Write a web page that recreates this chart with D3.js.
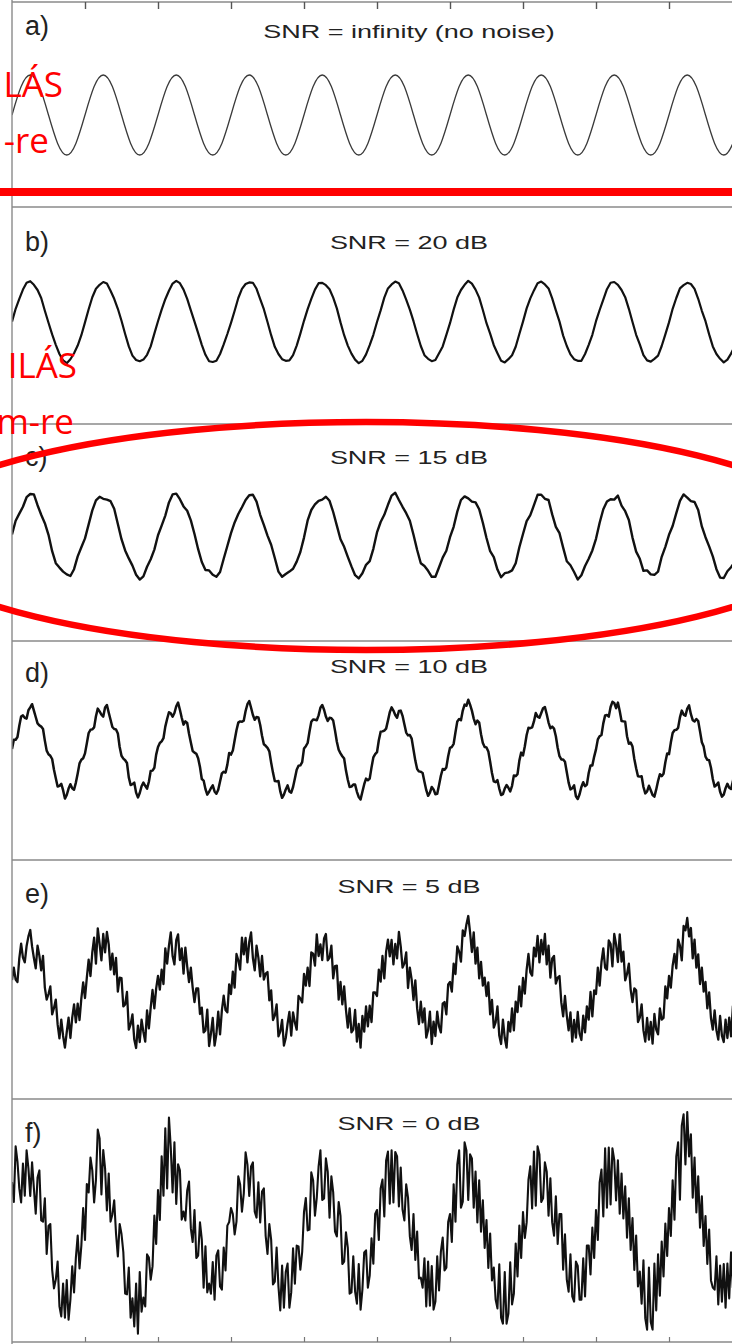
<!DOCTYPE html>
<html>
<head>
<meta charset="utf-8">
<script src="https://cdn.jsdelivr.net/npm/d3@7"></script>
<style>
  html, body { margin: 0; padding: 0; background: #fff; }
  svg { display: block; }
</style>
</head>
<body>
<svg id="chart" width="732" height="1344"></svg>
<script>
// ---------------- DATA ----------------
const panelLabels = ["a)", "b)", "c)", "d)", "e)", "f)"];
const panelTitles = ["SNR = infinity (no noise)", "SNR = 20 dB", "SNR = 15 dB", "SNR = 10 dB", "SNR = 5 dB", "SNR = 0 dB"];
const xTicks = [1, 2, 3, 4, 5, 6, 7, 8, 9];
const xDomain = [0, 10];

// a) no noise (8 samples per period)
const sigA = [0,71,100,71,0,-71,-100,-71, 0,71,100,71,0,-71,-100,-71, 0,71,100,71,0,-71,-100,-71,
  0,71,100,71,0,-71,-100,-71, 0,71,100,71,0,-71,-100,-71, 0,71,100,71,0,-71,-100,-71,
  0,71,100,71,0,-71,-100,-71, 0,71,100,71,0,-71,-100,-71, 0,71,100,71,0,-71,-100,-71,
  0,71,100,71,0,-71,-100,-71, 0];

// b) 20 dB (20 samples per period)
const sigB = [
  1,33,58,81,98,102,93,80,60,28,-2,-31,-57,-80,-96,-103,-93,-78,-59,-33,
  -1,32,62,83,93,100,96,78,58,33,3,-30,-61,-84,-95,-98,-94,-82,-61,-29,
  2,31,57,78,96,103,97,81,58,29,1,-28,-57,-82,-98,-100,-97,-80,-56,-30,
  -2,28,60,83,95,99,98,83,57,32,0,-33,-62,-80,-93,-97,-96,-83,-59,-29,
  3,32,58,81,97,98,92,82,61,34,-1,-33,-59,-79,-94,-103,-97,-81,-58,-32,
  0,29,61,84,94,101,97,79,56,31,2,-30,-60,-83,-92,-98,-95,-78,-61,-32,
  -3,31,61,80,93,103,96,81,61,30,-3,-29,-58,-78,-97,-101,-93,-83,-62,-30,
  1,34,59,79,97,101,94,84,59,29,1,-34,-60,-81,-93,-97,-97,-80,-57,-32,
  2,30,56,82,98,100,93,80,62,33,0,-32,-56,-83,-96,-99,-92,-84,-60,-31,
  -1,33,60,84,92,98,95,83,58,28,2,-31,-61,-80,-92,-101,-94,-79,-61,-28,
  0];

// c) 15 dB (20 samples per period)
const sigC = [
  4,38,56,73,97,105,104,77,53,32,3,-38,-68,-79,-89,-96,-100,-83,-51,-28,
  -6,29,64,89,98,93,91,87,68,30,-8,-36,-56,-74,-97,-109,-101,-77,-58,-34,
  2,26,51,84,104,106,92,74,63,39,5,-33,-65,-85,-86,-97,-102,-90,-57,-25,
  7,34,55,72,90,102,103,86,53,28,1,-22,-55,-89,-102,-95,-89,-82,-64,-40,
  -4,39,65,79,88,91,98,88,60,26,-8,-27,-52,-76,-98,-106,-93,-72,-63,-32,
  9,35,53,78,101,108,90,73,57,38,3,-35,-68,-75,-87,-102,-102,-78,-54,-37,
  -3,23,61,90,99,94,86,84,67,33,-5,-38,-53,-84,-103,-93,-91,-86,-68,-28,
  5,37,52,77,103,103,93,90,54,23,7,-29,-63,-73,-90,-109,-98,-75,-57,-36,
  -7,33,67,86,92,91,101,76,62,40,-4,-39,-57,-87,-86,-96,-97,-89,-52,-27,
  3,25,57,88,104,96,87,85,65,24,-3,-26,-51,-83,-104,-105,-88,-78,-65,-29,
  2];

// d) 10 dB (40 samples per period)
const sigD = [
  5,28,28,35,63,86,89,83,81,102,109,117,101,85,69,64,61,55,26,1,-8,-12,-20,-47,-68,-89,-87,-82,-98,-119,-110,-94,-83,-93,-97,-79,-56,-31,-22,-18,
  -6,19,45,53,54,59,87,106,99,91,86,109,115,96,78,60,55,54,44,10,-12,-19,-23,-30,-66,-85,-83,-79,-104,-116,-105,-88,-79,-87,-94,-77,-50,-49,-42,-9,
  10,20,24,32,61,80,97,94,86,95,112,121,103,83,66,74,70,43,21,0,-4,-7,-18,-40,-70,-74,-95,-109,-102,-93,-86,-101,-107,-97,-76,-56,-52,-54,-34,-5,
  -9,1,27,52,71,74,73,76,100,117,125,108,90,78,85,84,65,38,17,13,8,-1,-29,-54,-75,-76,-75,-101,-117,-109,-96,-86,-101,-104,-90,-69,-47,-37,-36,-28,
  6,12,20,48,73,79,78,77,89,108,115,103,86,75,83,82,76,51,23,3,-6,-13,-19,-49,-72,-90,-89,-84,-84,-102,-115,-121,-102,-83,-69,-73,-69,-41,-16,-8,
  -3,27,48,49,51,56,76,97,109,101,90,83,100,101,88,67,46,39,40,31,3,-24,-45,-51,-52,-55,-77,-98,-112,-104,-90,-96,-108,-107,-85,-62,-45,-47,-41,-13,
  8,10,18,47,74,80,77,101,116,113,128,116,101,81,67,76,71,42,20,10,9,-1,-27,-55,-76,-78,-73,-94,-110,-108,-94,-85,-92,-101,-87,-61,-63,-58,-24,-4,
  -11,12,40,58,57,59,74,95,86,83,95,107,110,92,71,57,61,56,37,8,-13,-21,-21,-27,-53,-79,-96,-93,-86,-113,-120,-108,-90,-78,-88,-84,-55,-36,-36,-14,
  4,29,37,40,69,89,90,86,110,123,120,107,121,100,75,74,73,37,18,21,11,-20,-43,-63,-64,-63,-90,-106,-101,-87,-98,-110,-114,-96,-75,-58,-63,-57,-28,-6,
  -8,21,45,52,53,58,84,101,91,88,106,114,92,77,74,80,75,49,22,11,-14,-22,-23,-42,-70,-89,-85,-79,-102,-114,-109,-93,-82,-92,-95,-76,-51,-51,-43,-12,
  3];

// e) 5 dB (40 samples per period)
const sigE = [
  20,51,21,15,74,111,76,64,105,129,145,104,75,49,106,81,44,80,1,-29,-15,4,-66,-50,-29,-91,-126,-79,-120,-149,-110,-74,-125,-74,-41,-86,-39,-80,-26,14,
  -25,26,71,30,89,126,61,149,110,69,135,89,140,109,46,86,34,75,-9,26,25,-46,-41,-10,-104,-91,-66,-129,-150,-94,-135,-79,-110,-134,-56,-101,-49,-5,-51,-1,
  30,-4,46,10,99,61,106,139,80,59,120,134,70,99,36,101,54,15,51,1,-35,-1,-1,-65,-49,-111,-106,-54,-145,-114,-75,-144,-115,-59,-116,-56,-19,-55,-61,9,
  -15,41,1,85,69,46,126,84,125,64,115,139,75,44,106,76,29,80,21,36,40,-31,-6,-80,-69,-41,-121,-109,-80,-144,-125,-89,-60,-119,-61,-86,-104,-20,-26,-36,
  35,6,51,5,89,86,56,134,80,109,70,124,135,69,76,106,24,55,56,-29,15,-41,4,-55,-99,-51,-111,-104,-55,-134,-90,-149,-70,-109,-46,-96,-44,-85,-11,-11,
  -20,46,16,80,24,91,121,79,120,59,110,74,140,104,51,61,89,0,51,21,-30,19,-51,-90,-34,-86,-51,-124,-105,-59,-140,-84,-120,-59,-96,-111,-39,-35,-66,9,
  15,-9,61,35,104,91,66,144,130,159,180,139,90,139,61,101,24,65,6,26,-20,14,-66,-30,-99,-86,-46,-119,-140,-79,-125,-149,-85,-109,-51,-106,-34,-60,4,-46,
  25,-14,46,85,39,31,101,79,130,64,120,84,135,59,106,26,74,80,11,26,30,-36,-71,-20,-69,-106,-61,-134,-80,-124,-60,-114,-130,-69,-111,-46,-79,-10,-71,-6,
  -15,51,6,65,99,51,46,119,110,54,135,109,65,134,66,91,19,35,61,-4,-35,-1,-6,-85,-74,-41,-106,-134,-75,-129,-85,-139,-65,-104,-116,-51,-79,-75,4,-26,
  30,1,56,85,49,121,106,69,155,144,175,129,150,74,121,51,84,10,51,-9,15,-51,-11,-75,-104,-56,-106,-129,-70,-119,-135,-79,-125,-74,-121,-46,-69,-75,-11,-31,
  10];

// f) 0 dB (40 samples per period)
const sigF = [
  120,70,209,171,104,69,166,86,199,154,85,169,104,41,131,149,24,21,79,-60,10,15,-99,-146,-124,-79,-191,-216,-134,-219,-125,-224,-174,-91,-156,-69,-14,-96,-39,55,
  -25,115,94,181,149,69,126,251,229,89,200,154,49,141,21,39,74,-9,-66,15,-10,-55,-159,-161,-94,-219,-171,-241,-134,-259,-105,-204,-169,-191,-61,-69,-124,-91,36,-35,
  100,25,184,86,254,104,281,206,94,219,65,164,149,26,46,24,99,121,4,-30,50,-70,-64,19,-24,-144,-41,-156,-134,-159,-80,-174,-64,-51,-141,-149,-44,-101,11,20,
  55,40,-11,21,134,114,46,91,194,164,85,159,169,46,31,119,19,96,104,-15,-60,15,-24,-136,-129,-44,-141,-201,-89,-194,-105,-84,-194,-156,-46,-134,-39,-41,-99,-55,
  45,80,-1,1,144,124,36,81,159,199,75,79,179,146,31,134,94,-4,-16,70,35,-85,-79,-6,-44,-159,-156,-66,-154,-184,-85,-199,-149,-56,-51,-144,-114,-21,-84,40,
  50,-25,104,126,34,174,196,66,199,69,195,184,59,156,51,24,114,81,-16,-50,40,-75,-4,-121,-119,-144,-71,-191,-79,-189,-90,-199,-179,-66,-151,-54,-19,-101,-94,20,
  40,-30,114,21,164,199,56,71,219,199,75,189,179,56,146,19,124,-4,74,-45,25,-95,-9,-126,-94,-174,-196,-86,-219,-234,-105,-234,-209,-81,-186,-159,-34,-116,11,-70,
  45,-20,19,126,159,54,196,61,209,189,70,79,169,146,36,129,19,-14,84,-35,40,40,-99,-11,-124,-154,-61,-166,-179,-79,-90,-174,-174,-71,-166,-39,-39,-111,6,-70,
  50,-25,119,151,34,204,56,206,64,204,175,74,174,41,141,29,109,-19,79,-50,30,-100,-14,-141,-104,-184,-76,-221,-249,-94,-230,-249,-84,-201,-61,-164,-29,-116,16,-65,
  55,-15,124,26,184,219,76,261,289,164,295,184,239,81,181,44,134,6,84,-40,35,-85,1,-126,-144,-149,-66,-186,-89,-179,-85,-194,-84,-171,-56,-144,-34,-106,11,-65,
  40];

const series = [sigA, sigB, sigC, sigD, sigE, sigF];

// ---------------- LAYOUT ----------------
const W = 732, H = 1344;
const pxPerUnit = 0.4;
const panels = [
  { top: 2,    bottom: 207,  center: 115,  titleY: 38,   labelY: 35 },
  { top: 207,  bottom: 424,  center: 322,  titleY: 249,  labelY: 251 },
  { top: 424,  bottom: 641,  center: 536,  titleY: 464,  labelY: 466 },
  { top: 641,  bottom: 860,  center: 751,  titleY: 673,  labelY: 682 },
  { top: 860,  bottom: 1099, center: 988,  titleY: 893,  labelY: 903 },
  { top: 1099, bottom: 1342, center: 1230, titleY: 1130, labelY: 1142 }
];
const lineStyles = [
  { color: "#3a3a3a", width: 1.3 },
  { color: "#111", width: 2.2 },
  { color: "#111", width: 2.4 },
  { color: "#111", width: 2.5 },
  { color: "#111", width: 2.3 },
  { color: "#111", width: 2.1 }
];
const axisLeft = 12, axisRight = 742;
const frameColor = "#8a8a8a";

const svg = d3.select("#chart");
svg.append("rect").attr("width", W).attr("height", H).attr("fill", "#fff");

const x = d3.scaleLinear().domain(xDomain).range([axisLeft, axisRight]);

svg.append("defs").append("clipPath").attr("id", "plotclip")
  .append("rect").attr("x", axisLeft).attr("y", 0).attr("width", W - axisLeft).attr("height", H);

const gPanels = svg.append("g");

panels.forEach((p, i) => {
  const y = d3.scaleLinear()
    .domain([-(p.bottom - p.center) / pxPerUnit, (p.center - p.top) / pxPerUnit])
    .range([p.bottom, p.top]);
  const data = series[i];
  const n = data.length;
  const line = d3.line()
    .x((d, j) => x(xDomain[0] + (xDomain[1] - xDomain[0]) * j / (n - 1)))
    .y(d => y(d))
    .curve(i === 0 ? d3.curveNatural : d3.curveLinear);

  const g = gPanels.append("g");
  g.append("path")
    .datum(data)
    .attr("d", line)
    .attr("fill", "none")
    .attr("stroke", lineStyles[i].color)
    .attr("stroke-width", lineStyles[i].width)
    .attr("stroke-linejoin", "round")
    .attr("clip-path", "url(#plotclip)");

  g.append("text")
    .attr("transform", `translate(${(axisLeft + 806) / 2},${p.titleY}) scale(1.46,1)`)
    .attr("text-anchor", "middle")
    .attr("font-family", "'Liberation Sans', Arial, sans-serif")
    .attr("font-size", 18.5)
    .attr("fill", "#222")
    .text(panelTitles[i]);

  g.append("text")
    .attr("x", 25)
    .attr("y", p.labelY)
    .attr("font-family", "'Liberation Sans', Arial, sans-serif")
    .attr("font-size", 27)
    .attr("fill", "#222")
    .text(panelLabels[i]);
});

// frame lines
const frame = svg.append("g").attr("stroke", frameColor).attr("stroke-width", 1.4);
const hLines = [panels[0].top].concat(panels.map(p => p.bottom));
hLines.forEach(yy => {
  frame.append("line").attr("x1", axisLeft).attr("x2", W).attr("y1", yy).attr("y2", yy);
});
frame.append("line").attr("x1", axisLeft).attr("x2", axisLeft).attr("y1", 0).attr("y2", H);

// ticks
const topAxis = d3.axisTop(x).tickValues(xTicks).tickSize(-7).tickFormat("");
const gTop = svg.append("g").attr("transform", `translate(0,${panels[0].top})`).call(topAxis);
gTop.select(".domain").remove();
gTop.selectAll(".tick line").attr("stroke", "#555").attr("stroke-width", 1.4);

const botAxis = d3.axisBottom(x).tickValues(xTicks).tickSize(-5).tickFormat("");
const gBot = svg.append("g").attr("transform", `translate(0,${panels[5].bottom})`).call(botAxis);
gBot.select(".domain").remove();
gBot.selectAll(".tick line").attr("stroke", "#777").attr("stroke-width", 1.2);

// ---------------- RED ANNOTATIONS ----------------
const red = "#ff0000";
const ann = svg.append("g");
ann.append("line")
  .attr("x1", 0).attr("x2", W).attr("y1", 192).attr("y2", 192)
  .attr("stroke", red).attr("stroke-width", 8);
ann.append("ellipse")
  .attr("cx", 366).attr("cy", 536).attr("rx", 468).attr("ry", 114)
  .attr("fill", "none").attr("stroke", red).attr("stroke-width", 6.5);

const redTexts = [
  { t: "LÁS", x: 63, y: 97 },
  { t: "-re", x: 49, y: 153 },
  { t: "ILÁS", x: 77, y: 378 },
  { t: "m-re", x: 74, y: 434 }
];
ann.selectAll("text.red").data(redTexts).enter().append("text")
  .attr("class", "red")
  .attr("x", d => d.x).attr("y", d => d.y)
  .attr("text-anchor", "end")
  .attr("font-family", "'Open Sans', 'Noto Sans', sans-serif")
  .attr("font-size", 35)
  .attr("fill", red)
  .text(d => d.t);
</script>
</body>
</html>
